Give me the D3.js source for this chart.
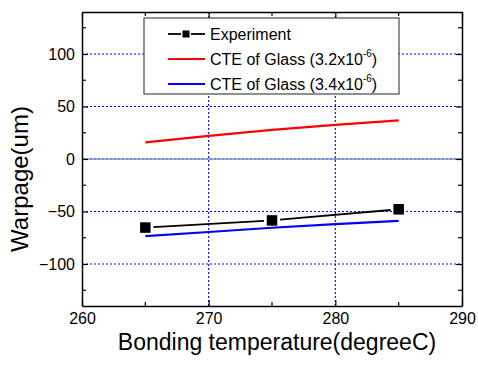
<!DOCTYPE html>
<html>
<head>
<meta charset="utf-8">
<script src="https://cdn.jsdelivr.net/npm/d3@7"></script>
<style>
  body { margin: 0; background: #fff; }
  svg { display: block; font-family: "Liberation Sans", Arial, sans-serif; }
</style>
</head>
<body>
<div id="chart"></div>
<script>
const temps = [265, 275, 285];
const experiment = [-65.3, -58.5, -47.9];
const simTemps = [265, 270, 275, 280, 285];
const cte32 = [15.8, 22.1, 27.7, 32.5, 36.7];
const cte34 = [-73.5, -69.5, -65.5, -62, -59];
const xTicks = [260, 270, 280, 290];
const yTicks = [-100, -50, 0, 50, 100];
const legendLabels = ["Experiment", "CTE of Glass (3.2x10", "CTE of Glass (3.4x10"];

const width = 478, height = 369;
const margin = {top: 12, right: 16, bottom: 63, left: 82};

const svg = d3.select("#chart").append("svg")
    .attr("width", width)
    .attr("height", height);

const x = d3.scaleLinear().domain([260, 290]).range([margin.left, width - margin.right]);
const y = d3.scaleLinear().domain([-140, 140]).range([height - margin.bottom, margin.top]);

// grid
const grid = svg.append("g");
grid.selectAll("line.gx")
    .data([270, 280])
    .join("line")
    .attr("class", "gx")
    .attr("x1", d => x(d)).attr("x2", d => x(d))
    .attr("y1", y(-140)).attr("y2", y(140))
    .attr("stroke", "#0000ff").attr("stroke-width", 1.1)
    .attr("stroke-dasharray", "2,2");
grid.selectAll("line.gy")
    .data(yTicks)
    .join("line")
    .attr("class", "gy")
    .attr("x1", x(260)).attr("x2", x(290))
    .attr("y1", d => y(d)).attr("y2", d => y(d))
    .attr("stroke", "#0000ff").attr("stroke-width", 1.1)
    .attr("stroke-dasharray", "2,2");
// zero line, alternating green
grid.append("line")
    .attr("x1", x(260)).attr("x2", x(290))
    .attr("y1", y(0)).attr("y2", y(0))
    .attr("stroke", "#2f7f5f").attr("stroke-width", 1.1)
    .attr("stroke-dasharray", "2,2")
    .attr("stroke-dashoffset", 2);

const xMinor = d3.range(265, 290, 10);
const yMinor = d3.range(-125, 140, 50);

function drawAxis(g, axis, ticks, showLabels) {
    g.call(axis.tickValues(ticks).tickSizeInner(-6).tickSizeOuter(0).tickPadding(7));
    g.select(".domain").attr("stroke", "#000").attr("stroke-width", 1.5);
    g.selectAll(".tick line").attr("stroke", "#000").attr("stroke-width", 1.2);
    g.selectAll(".tick text")
        .attr("font-size", 16)
        .attr("fill", "#000")
        .attr("font-family", "'Liberation Sans', Arial, sans-serif")
        .style("display", showLabels ? null : "none");
}

const gBottom = svg.append("g").attr("transform", `translate(0,${y(-140)})`);
drawAxis(gBottom, d3.axisBottom(x).tickFormat(d3.format("d")), xTicks, true);
const gTop = svg.append("g").attr("transform", `translate(0,${y(140)})`);
drawAxis(gTop, d3.axisTop(x), xTicks, false);
const gLeft = svg.append("g").attr("transform", `translate(${x(260)},0)`);
drawAxis(gLeft, d3.axisLeft(y).tickFormat(d3.format("d")), yTicks, true);
const gRight = svg.append("g").attr("transform", `translate(${x(290)},0)`);
drawAxis(gRight, d3.axisRight(y), yTicks, false);

// minor ticks
const minorG = svg.append("g").attr("stroke", "#000").attr("stroke-width", 1.2);
xMinor.forEach(v => {
    minorG.append("line").attr("x1", x(v)).attr("x2", x(v)).attr("y1", y(-140)).attr("y2", y(-140) - 4);
    minorG.append("line").attr("x1", x(v)).attr("x2", x(v)).attr("y1", y(140)).attr("y2", y(140) + 4);
});
yMinor.forEach(v => {
    minorG.append("line").attr("x1", x(260)).attr("x2", x(260) + 4).attr("y1", y(v)).attr("y2", y(v));
    minorG.append("line").attr("x1", x(290)).attr("x2", x(290) - 4).attr("y1", y(v)).attr("y2", y(v));
});

// simulation lines
const line = d3.line().x(d => x(d[0])).y(d => y(d[1]));
svg.append("path")
    .datum(d3.zip(simTemps, cte32))
    .attr("fill", "none").attr("stroke", "#ff0000").attr("stroke-width", 2.2)
    .attr("d", line);
svg.append("path")
    .datum(d3.zip(simTemps, cte34))
    .attr("fill", "none").attr("stroke", "#0000ff").attr("stroke-width", 2.2)
    .attr("d", line);

// experiment: segments with gap at symbols
const gap = 8;
const exp = d3.zip(temps, experiment).map(d => [x(d[0]), y(d[1])]);
for (let i = 0; i < exp.length - 1; i++) {
    const [x0, y0] = exp[i], [x1, y1] = exp[i + 1];
    const len = Math.hypot(x1 - x0, y1 - y0);
    const ux = (x1 - x0) / len, uy = (y1 - y0) / len;
    svg.append("line")
        .attr("x1", x0 + ux * gap).attr("y1", y0 + uy * gap)
        .attr("x2", x1 - ux * gap).attr("y2", y1 - uy * gap)
        .attr("stroke", "#000").attr("stroke-width", 1.8);
}
const ms = 10.5;
svg.selectAll("rect.pt")
    .data(exp)
    .join("rect")
    .attr("class", "pt")
    .attr("x", d => d[0] - ms / 2).attr("y", d => d[1] - ms / 2)
    .attr("width", ms).attr("height", ms)
    .attr("fill", "#000");

// legend
const lg = svg.append("g").attr("transform", "translate(144,18)");
lg.append("rect")
    .attr("width", 255).attr("height", 76)
    .attr("fill", "#fff").attr("stroke", "#555").attr("stroke-width", 1.3);
const rows = [16, 41, 66];
const colors = ["#000", "#ff0000", "#0000ff"];
rows.forEach((ry, i) => {
    if (i === 0) {
        lg.append("line").attr("x1", 24).attr("x2", 37).attr("y1", ry).attr("y2", ry)
            .attr("stroke", "#000").attr("stroke-width", 1.8);
        lg.append("line").attr("x1", 47).attr("x2", 61).attr("y1", ry).attr("y2", ry)
            .attr("stroke", "#000").attr("stroke-width", 1.8);
        lg.append("rect").attr("x", 38.5).attr("y", ry - 3.5).attr("width", 7).attr("height", 7).attr("fill", "#000");
    } else {
        lg.append("line").attr("x1", 24).attr("x2", 61).attr("y1", ry).attr("y2", ry)
            .attr("stroke", colors[i]).attr("stroke-width", 2);
    }
    const t = lg.append("text")
        .attr("x", 66).attr("y", ry + 6)
        .attr("font-size", 16).attr("fill", "#000")
        .text(legendLabels[i]);
    if (i > 0) {
        t.append("tspan").attr("font-size", 10).attr("dy", -8).text("-6");
        t.append("tspan").attr("dy", 8).text(")");
    }
});

// axis titles
svg.append("text")
    .attr("x", 277).attr("y", 350)
    .attr("text-anchor", "middle")
    .attr("font-size", 23).attr("fill", "#000")
    .text("Bonding temperature(degreeC)");
svg.append("text")
    .attr("transform", "translate(28,179) rotate(-90)")
    .attr("text-anchor", "middle")
    .attr("font-size", 24).attr("fill", "#000")
    .text("Warpage(um)");
</script>
</body>
</html>
